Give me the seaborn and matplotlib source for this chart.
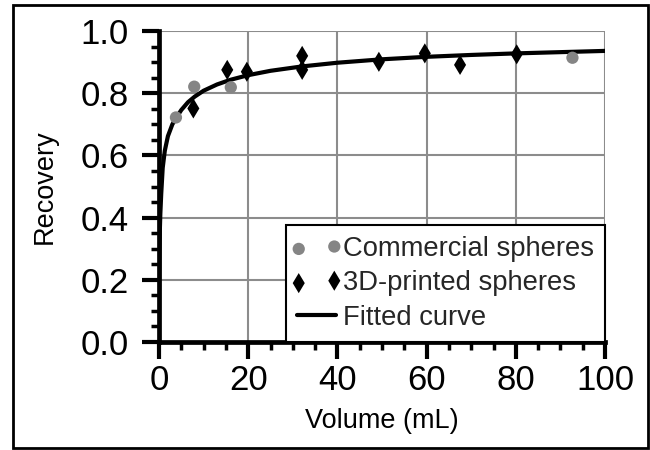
import matplotlib
matplotlib.use("Agg")
import matplotlib.pyplot as plt
from matplotlib.patches import Rectangle
from matplotlib.legend_handler import HandlerPathCollection
from matplotlib.collections import PathCollection
from matplotlib.ticker import MultipleLocator
import seaborn as sns
import pandas as pd

# ---- data ----
commercial_volume = [3.8, 7.9, 16.1, 92.7]
commercial_recovery = [0.722, 0.821, 0.819, 0.914]

printed_volume = [7.7, 15.3, 19.7, 32.1, 32.1, 49.3, 59.6, 67.5, 80.2]
printed_recovery = [0.751, 0.875, 0.869, 0.920, 0.875, 0.901, 0.928, 0.891, 0.925]

curve_volume = [0, 0.005, 0.02, 0.05, 0.1, 0.2, 0.3, 0.5, 0.83, 1.3, 2, 3, 4, 5,
                6.5, 8, 10, 13, 16, 20, 25, 32, 40, 50, 60, 70, 80, 90, 100]
curve_recovery = [0.0, 0.083, 0.153, 0.223, 0.289, 0.365, 0.413, 0.477, 0.56, 0.615,
                  0.662, 0.70, 0.724, 0.746, 0.771, 0.789, 0.808, 0.828, 0.843, 0.858,
                  0.872, 0.886, 0.898, 0.909, 0.917, 0.923, 0.928, 0.932, 0.936]

x_ticks = [0, 20, 40, 60, 80, 100]
y_ticks = [0.0, 0.2, 0.4, 0.6, 0.8, 1.0]

sns.set_theme(style="white")
plt.rcParams['font.family'] = ['Liberation Sans', 'DejaVu Sans']

fig = plt.figure(figsize=(6.5, 4.5), dpi=100)
ax = fig.add_axes([159 / 650, 1 - 342 / 450, (605 - 159) / 650, (342 - 31) / 450])

comm = pd.DataFrame({"v": commercial_volume, "r": commercial_recovery})
prnt = pd.DataFrame({"v": printed_volume, "r": printed_recovery})
curve = pd.DataFrame({"v": curve_volume, "r": curve_recovery})

sns.lineplot(data=curve, x="v", y="r", ax=ax, color="black", linewidth=3,
             label="Fitted curve", zorder=4, sort=False)
sns.scatterplot(data=comm, x="v", y="r", ax=ax, color="#858585", marker="o",
                s=78, edgecolor="none", label="Commercial spheres", zorder=5)
sns.scatterplot(data=prnt, x="v", y="r", ax=ax, color="black", marker="d",
                s=105, edgecolor="none", label="3D-printed spheres", zorder=5)

ax.set_xlim(0, 100)
ax.set_ylim(0, 1.0)
ax.set_xticks(x_ticks)
ax.set_yticks(y_ticks)
ax.set_xticklabels([str(t) for t in x_ticks])
ax.set_yticklabels([f"{t:.1f}" for t in y_ticks])
ax.xaxis.set_minor_locator(MultipleLocator(5))
ax.yaxis.set_minor_locator(MultipleLocator(0.05))

ax.grid(True, which="major", color="#8c8c8c", linewidth=1.5)
ax.set_axisbelow(True)

for side in ["top", "right"]:
    ax.spines[side].set_visible(False)
for side in ["left", "bottom"]:
    ax.spines[side].set_color("black")
    ax.spines[side].set_linewidth(3.4)
    ax.spines[side].set_zorder(6)

ax.tick_params(which="major", direction="out", length=12, width=3, color="black",
               labelsize=25, labelcolor="black")
ax.tick_params(which="minor", direction="out", length=6, width=2.5, color="black")
ax.tick_params(axis="x", which="both", bottom=True, pad=4)
ax.tick_params(axis="y", which="both", left=True, pad=10)

ax.set_xlabel("Volume (mL)", fontsize=19.5, color="black", labelpad=8)
ax.set_ylabel("Recovery", fontsize=19.5, color="black", labelpad=16)

handles, labels = ax.get_legend_handles_labels()
order = [labels.index("Commercial spheres"), labels.index("3D-printed spheres"),
         labels.index("Fitted curve")]
leg = ax.legend([handles[i] for i in order], [labels[i] for i in order],
                loc="lower right", bbox_to_anchor=(1.0, 0.0), borderaxespad=0,
                fontsize=19.7, scatterpoints=2, handlelength=1.4, handletextpad=0.25,
                borderpad=0.42, labelspacing=0.3, fancybox=False, framealpha=1,
                edgecolor="black",
                handler_map={PathCollection: HandlerPathCollection(marker_pad=0.05)})
leg.get_frame().set_linewidth(1.5)
leg.set_zorder(7)

fig.patches.append(Rectangle((13 / 650, 1 - 448 / 450), (648 - 13) / 650, (448 - 5) / 450,
                             transform=fig.transFigure, fill=False, edgecolor="black",
                             linewidth=2, zorder=10))

fig.savefig("out.png", dpi=100)
